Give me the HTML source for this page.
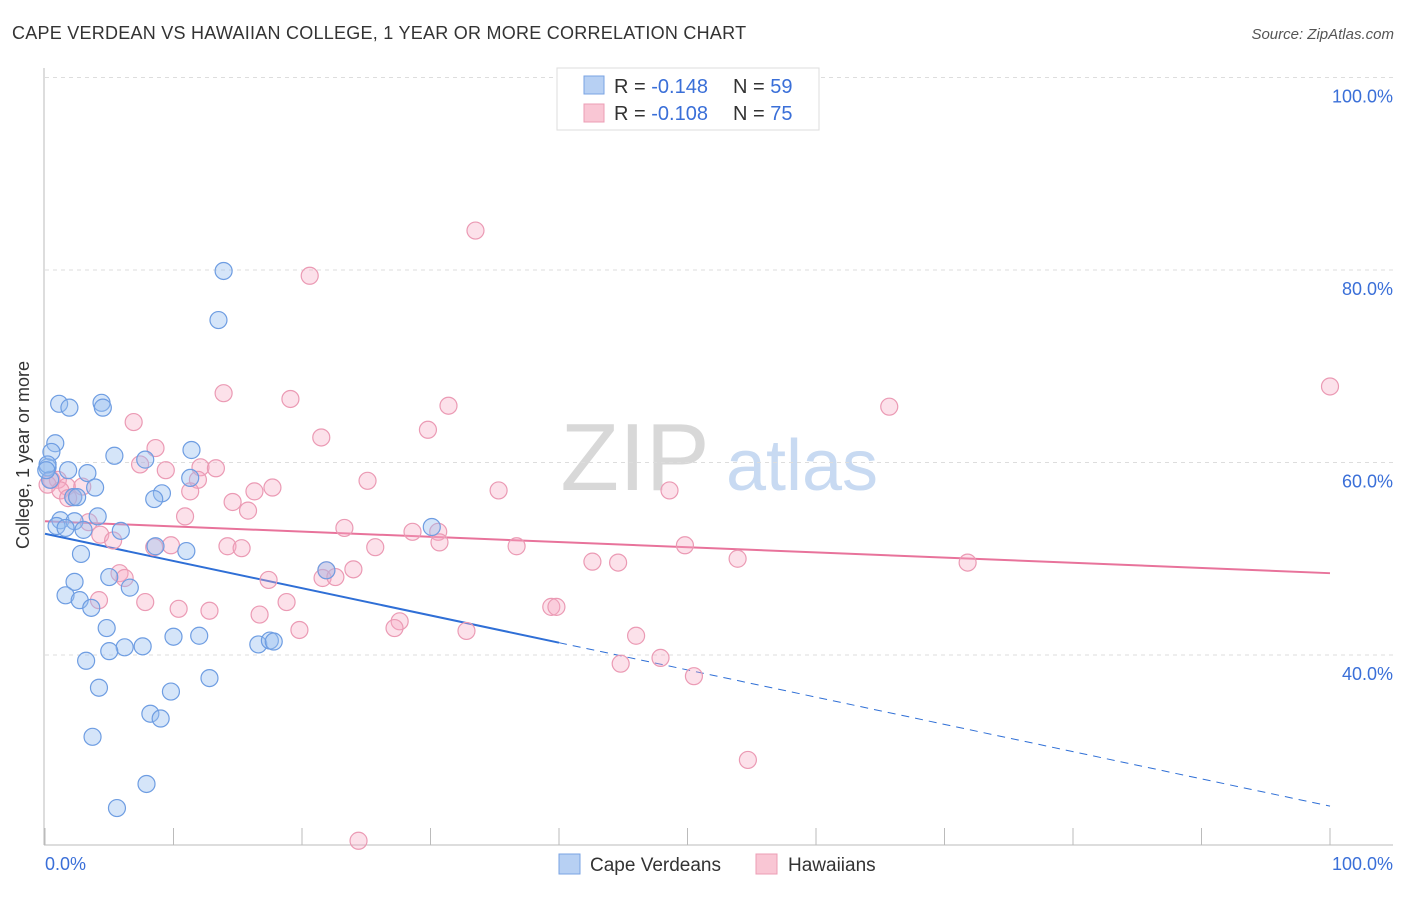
<!DOCTYPE html>
<html><head><meta charset="utf-8">
<style>
body{margin:0;background:#fff;font-family:"Liberation Sans",sans-serif;}
svg text{font-family:"Liberation Sans",sans-serif;}
</style></head>
<body>
<svg id="chart" width="1406" height="892" viewBox="0 0 1406 892" xmlns="http://www.w3.org/2000/svg">
<text x="12" y="39" font-size="18" fill="#333" letter-spacing="0.25">CAPE VERDEAN VS HAWAIIAN COLLEGE, 1 YEAR OR MORE CORRELATION CHART</text>
<text x="1394" y="39" font-size="15" fill="#555" font-style="italic" text-anchor="end">Source: ZipAtlas.com</text>
<g>
<text x="635" y="490" font-size="96" fill="#d8d8d8" font-family="Liberation Serif" text-anchor="middle">ZIP</text>
<text x="802" y="490" font-size="72" fill="#c8daf2" text-anchor="middle">atlas</text>
</g>
<g id="grid"></g>
<g id="axes"></g>
<g id="lines"></g>
<g id="points"></g>
<text x="29" y="455" font-size="18" fill="#333" text-anchor="middle" transform="rotate(-90 29 455)">College, 1 year or more</text>
<g>
<rect x="557" y="68" width="262" height="62" fill="#fff" stroke="#ddd"/>
<rect x="584" y="76" width="20" height="18" fill="#b7d0f3" stroke="#7aa3e3"/>
<rect x="584" y="104" width="20" height="18" fill="#f9c6d4" stroke="#ec9db5"/>
<text x="614" y="93" font-size="20" fill="#333">R = <tspan fill="#3a6fd8">-0.148</tspan></text>
<text x="733" y="93" font-size="20" fill="#333">N = <tspan fill="#3a6fd8">59</tspan></text>
<text x="614" y="120" font-size="20" fill="#333">R = <tspan fill="#3a6fd8">-0.108</tspan></text>
<text x="733" y="120" font-size="20" fill="#333">N = <tspan fill="#3a6fd8">75</tspan></text>
</g>
<g>
<rect x="559" y="854" width="21" height="20" fill="#b7d0f3" stroke="#7aa3e3"/>
<text x="590" y="871" font-size="19" fill="#333">Cape Verdeans</text>
<rect x="756" y="854" width="21" height="20" fill="#f9c6d4" stroke="#ec9db5"/>
<text x="788" y="871" font-size="19" fill="#333">Hawaiians</text>
</g>
<text x="45" y="870" font-size="18" fill="#3a6fd8">0.0%</text>
<text x="1393" y="870" font-size="18" fill="#3a6fd8" text-anchor="end">100.0%</text>
</svg>
<script>
const yTicks=[100,80,60,40];
const yTickLabels=["100.0%","80.0%","60.0%","40.0%"];
const blueX=[13.9,13.5,1.1,1.9,4.4,4.5,0.8,0.5,11.4,5.4,7.8,1.8,0.2,3.3,0.4,11.3,3.9,9.1,8.5,2.2,2.5,4.1,1.2,2.3,0.9,1.6,3.0,5.9,30.1,8.6,11.0,2.8,5.0,2.3,6.6,1.6,2.7,3.6,4.8,10.0,12.0,6.2,7.6,5.0,16.6,17.5,17.8,21.9,3.2,12.8,4.2,9.8,8.2,9.0,3.7,7.9,5.6,0.2,0.1];
const blueY=[79.9,74.8,66.1,65.7,66.2,65.7,62.0,61.1,61.3,60.7,60.3,59.2,59.5,58.9,58.2,58.4,57.4,56.8,56.2,56.4,56.4,54.4,54.0,53.9,53.4,53.2,53.0,52.9,53.3,51.3,50.8,50.5,48.1,47.6,47.0,46.2,45.7,44.9,42.8,41.9,42.0,40.8,40.9,40.4,41.1,41.5,41.4,48.8,39.4,37.6,36.6,36.2,33.9,33.4,31.5,26.6,24.1,59.8,59.2];
const pinkX=[33.5,20.6,100,13.9,19.1,31.4,65.7,6.9,21.5,29.8,8.6,7.4,12.1,13.3,9.4,11.9,0.5,1.0,0.2,1.7,1.2,2.2,1.8,2.9,25.1,35.3,48.6,11.3,17.7,16.3,14.6,15.8,10.9,3.4,23.3,28.6,30.6,4.3,5.3,30.7,8.5,9.8,14.2,15.3,25.7,36.7,49.8,42.6,44.6,53.9,71.8,5.8,6.2,17.4,24.0,21.9,21.6,22.6,4.2,7.8,10.4,12.8,18.8,16.7,27.6,39.4,39.8,27.2,19.8,32.8,46.0,47.9,44.8,50.5,54.7,24.4];
const pinkY=[84.1,79.4,67.9,67.2,66.6,65.9,65.8,64.2,62.6,63.4,61.5,59.8,59.5,59.4,59.2,58.2,58.2,58.2,57.7,57.5,57.1,56.4,56.3,57.5,58.1,57.1,57.1,57.0,57.4,57.0,55.9,55.0,54.4,53.8,53.2,52.8,52.8,52.5,51.9,51.7,51.2,51.4,51.3,51.1,51.2,51.3,51.4,49.7,49.6,50.0,49.6,48.5,48.0,47.8,48.9,48.8,48.0,48.1,45.7,45.5,44.8,44.6,45.5,44.2,43.5,45.0,45.0,42.8,42.6,42.5,42.0,39.7,39.1,37.8,29.1,20.7];
const blueTrend=[52.6,24.3];
const pinkTrend=[53.9,48.5];
const blueSolidEnd=40;
const NS="http://www.w3.org/2000/svg";
function xs(v){return 45+v*12.85;}
function ys(v){return 1040-v*9.625;}
function mk(tag,attrs,parent){const e=document.createElementNS(NS,tag);for(const k in attrs)e.setAttribute(k,attrs[k]);parent.appendChild(e);return e;}
const grid=document.getElementById('grid');
yTicks.forEach((t,i)=>{
  const l=mk('line',{x1:45,x2:1393,y1:ys(t),y2:ys(t),stroke:'#ddd','stroke-dasharray':'4,4'},grid);
  
  
  const tx=mk('text',{x:1393,y:ys(t)+25,'font-size':18,fill:'#3a6fd8','text-anchor':'end'},grid);
  tx.textContent=yTickLabels[i];
  
  
});
const axes=document.getElementById('axes');
const ya=mk('line',{x1:44,x2:44,y1:68,y2:845,stroke:'#bbb'},axes);


const xa=mk('line',{x1:44,x2:1393,y1:845,y2:845,stroke:'#bbb'},axes);


for(let i=0;i<=10;i++){
  const t=mk('line',{x1:xs(i*10),x2:xs(i*10),y1:828,y2:845,stroke:'#bbb'},axes);
  
  
}
const lines=document.getElementById('lines');
function ty(tr,x){return tr[0]+(tr[1]-tr[0])*x/100;}
const pl=mk('line',{x1:xs(0),y1:ys(ty(pinkTrend,0)),x2:xs(100),y2:ys(ty(pinkTrend,100)),stroke:'#e8739b','stroke-width':2},lines);


const bl=mk('line',{x1:xs(0),y1:ys(ty(blueTrend,0)),x2:xs(blueSolidEnd),y2:ys(ty(blueTrend,blueSolidEnd)),stroke:'#2f6fd6','stroke-width':2},lines);


const bd=mk('line',{x1:xs(blueSolidEnd),y1:ys(ty(blueTrend,blueSolidEnd)),x2:xs(100),y2:ys(ty(blueTrend,100)),stroke:'#2f6fd6','stroke-width':1,'stroke-dasharray':'8,6'},lines);


const pts=document.getElementById('points');
pinkX.forEach((x,i)=>{
  const c=mk('circle',{cx:xs(x),cy:ys(pinkY[i]),r:8.5,fill:'rgba(245,170,195,0.35)',stroke:'#eb9ab4','stroke-width':1.2},pts);
  
  
});
blueX.forEach((x,i)=>{
  const c=mk('circle',{cx:xs(x),cy:ys(blueY[i]),r:8.5,fill:'rgba(150,190,240,0.4)',stroke:'#6e9de2','stroke-width':1.2},pts);
  
  
});
</script>
</body></html>
